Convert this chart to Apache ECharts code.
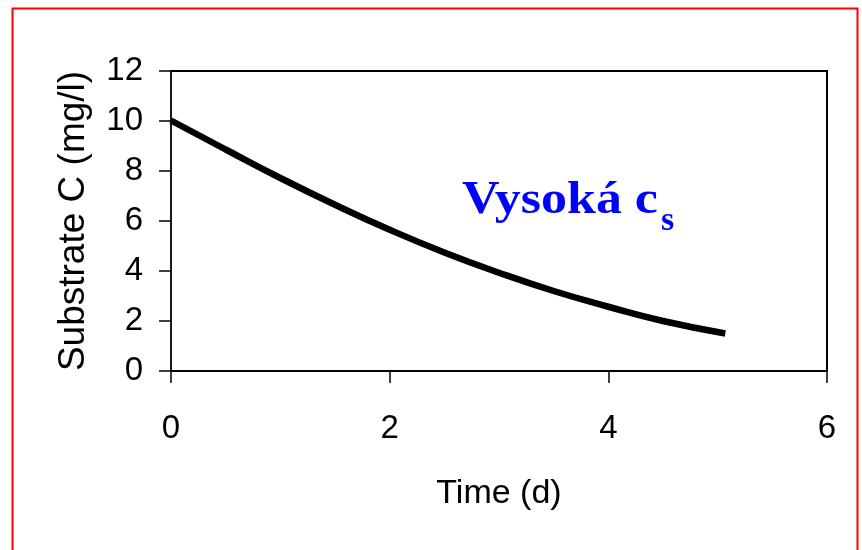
<!DOCTYPE html>
<html>
<head>
<meta charset="utf-8">
<script src="https://cdn.jsdelivr.net/npm/echarts@6/dist/echarts.min.js"></script>
<style>
html,body{margin:0;padding:0;background:#fff;}
#chart{width:862px;height:550px;}
</style>
</head>
<body>
<div id="chart"></div>
<script>
// Data
const timeDays = [0, 0.5, 1, 1.5, 2, 2.5, 3, 3.5, 4, 4.5, 5.07];
const substrateC = [10.02, 8.86, 7.72, 6.65, 5.65, 4.74, 3.93, 3.2, 2.57, 2.0, 1.5];
const xTicks = [0, 2, 4, 6];
const yTicks = [0, 2, 4, 6, 8, 10, 12];
const xTitle = 'Time (d)';
const yTitle = 'Substrate C (mg/l)';
const noteMain = 'Vysoká c';
const noteSub = 's';

const chart = echarts.init(document.getElementById('chart'), null, {renderer: 'canvas'});
const font = 'Liberation Sans, Arial, sans-serif';
chart.setOption({
  backgroundColor: '#fff',
  animation: false,
  grid: {left: 171, top: 71, width: 656, height: 300, show: true, borderColor: '#000', borderWidth: 2, backgroundColor: 'transparent'},
  xAxis: {
    type: 'value', min: xTicks[0], max: xTicks[xTicks.length - 1], interval: 2,
    name: xTitle, nameLocation: 'middle', nameGap: 106,
    nameTextStyle: {fontFamily: font, fontSize: 34, color: '#000'},
    axisLine: {lineStyle: {color: '#000', width: 2}},
    axisTick: {show: true, inside: false, length: 12, lineStyle: {color: '#000', width: 1.5}},
    axisLabel: {fontFamily: font, fontSize: 33, color: '#000', margin: 41},
    splitLine: {show: false}
  },
  yAxis: {
    type: 'value', min: yTicks[0], max: yTicks[yTicks.length - 1], interval: 2,
    name: yTitle, nameLocation: 'middle', nameGap: 79, nameRotate: 90,
    nameTextStyle: {fontFamily: font, fontSize: 37, color: '#000'},
    axisLine: {lineStyle: {color: '#222', width: 1.5}},
    axisTick: {show: true, inside: false, length: 12, lineStyle: {color: '#000', width: 1.5}},
    axisLabel: {fontFamily: font, fontSize: 33, color: '#000', margin: 28},
    splitLine: {show: false}
  },
  series: [{
    type: 'line',
    data: timeDays.map((t, i) => [t, substrateC[i]]),
    smooth: true,
    showSymbol: false,
    lineStyle: {color: '#000', width: 6.5, cap: 'butt'},
    silent: true
  }],
  graphic: [
    {type: 'rect', left: 10, top: 6, shape: {width: 845, height: 600}, style: {fill: 'none', stroke: '#ff0000', lineWidth: 2}, silent: true},
    {type: 'text', x: 462, y: 178, scaleX: 1.13, style: {text: noteMain, font: 'bold 46px "Liberation Serif", "Times New Roman", serif', fill: '#0000ff'}},
    {type: 'text', x: 661, y: 204, style: {text: noteSub, font: 'bold 34px "Liberation Serif", "Times New Roman", serif', fill: '#0000ff'}}
  ]
});
</script>
</body>
</html>
